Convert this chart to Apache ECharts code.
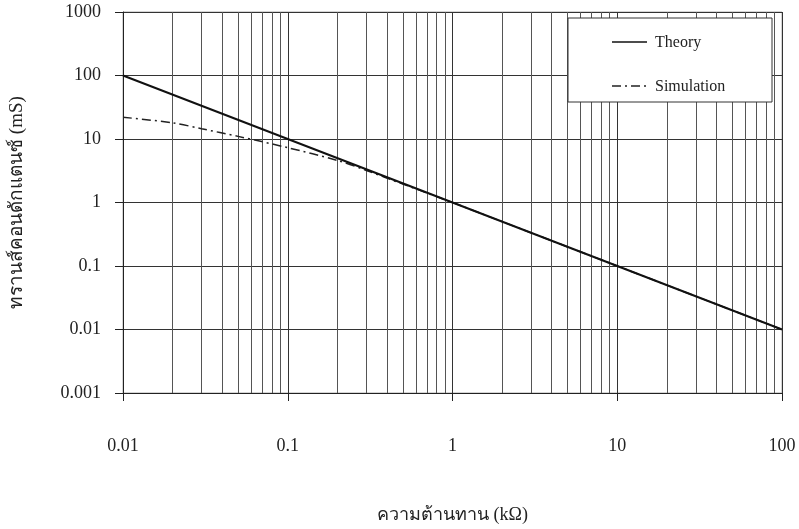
<!DOCTYPE html>
<html><head><meta charset="utf-8">
<script src="https://cdn.jsdelivr.net/npm/echarts@6/dist/echarts.min.js"></script>
<style>html,body{margin:0;padding:0;background:#fff}#c{width:799px;height:529px}</style>
</head><body><div id="c"></div>
<script>
const xTicks = [0.01, 0.1, 1, 10, 100];
const yTicks = [0.001, 0.01, 0.1, 1, 10, 100, 1000];
const minorGridX = [0.02,0.03,0.04,0.05,0.06,0.07,0.08,0.09,
  0.2,0.3,0.4,0.5,0.6,0.7,0.8,0.9,
  2,3,4,5,6,7,8,9,
  20,30,40,50,60,70,80,90];
const seriesNames = ['Theory', 'Simulation'];
const theoryX = [0.01, 0.1, 1, 10, 100];
const theoryY = [100, 10, 1, 0.1, 0.01];
const simX = [0.01, 0.02, 0.03, 0.05, 0.1, 0.2, 0.3, 0.5, 1, 2, 10, 100];
const simY = [22, 18, 14.5, 11, 7.3, 4.6, 3.2, 1.95, 1.0, 0.5, 0.1, 0.01];

const serif = "'Liberation Serif', 'Times New Roman', serif";
const simDash = [9, 4, 2, 4];
const chart = echarts.init(document.getElementById('c'));
chart.setOption({
  animation: false,
  backgroundColor: '#fff',
  grid: {left: 122, right: 17, top: 12, bottom: 131, show: true, borderColor: '#aaa', borderWidth: 1},
  graphic: [
    {type: 'rect', z: 100, shape: {x: 568, y: 18, width: 204, height: 84},
      style: {fill: '#fff', stroke: '#333', lineWidth: 1}},
    {type: 'line', z: 101, shape: {x1: 612, y1: 42, x2: 647, y2: 42},
      style: {stroke: '#111', lineWidth: 1.5}},
    {type: 'text', z: 101, x: 655, y: 43,
      style: {text: seriesNames[0], font: "16px 'Liberation Serif'", fill: '#222', verticalAlign: 'middle'}},
    {type: 'line', z: 101, shape: {x1: 612, y1: 86, x2: 647, y2: 86},
      style: {stroke: '#222', lineWidth: 1.5, lineDash: simDash}},
    {type: 'text', z: 101, x: 655, y: 87,
      style: {text: seriesNames[1], font: "16px 'Liberation Serif'", fill: '#222', verticalAlign: 'middle'}}
  ],
  xAxis: {
    type: 'log', logBase: 10, min: 0.01, max: 100,
    name: 'ความต้านทาน (kΩ)', nameLocation: 'middle', nameGap: 113,
    nameTextStyle: {fontFamily: serif, fontSize: 18, color: '#222'},
    axisLine: {show: true, lineStyle: {color: '#222', width: 1}},
    axisTick: {show: true, length: 8, lineStyle: {color: '#222'}},
    axisLabel: {fontFamily: serif, fontSize: 18, color: '#222', margin: 44,
      formatter: v => String(xTicks.find(t => Math.abs(Math.log10(t) - Math.log10(v)) < 1e-6) ?? v)},
    splitLine: {show: true, lineStyle: {color: '#333', width: 1}}
  },
  yAxis: {
    type: 'log', logBase: 10, min: 0.001, max: 1000,
    name: 'ทรานส์คอนดักแตนซ์ (mS)', nameLocation: 'middle', nameGap: 96,
    nameTextStyle: {fontFamily: serif, fontSize: 19, color: '#222'},
    axisLine: {show: true, lineStyle: {color: '#222', width: 1}},
    axisTick: {show: true, length: 8, lineStyle: {color: '#222'}},
    axisLabel: {fontFamily: serif, fontSize: 18, color: '#222', margin: 22,
      formatter: v => String(yTicks.find(t => Math.abs(Math.log10(t) - Math.log10(v)) < 1e-6) ?? v)},
    splitLine: {show: true, lineStyle: {color: '#333', width: 1}}
  },
  series: [
    {
      name: seriesNames[0], type: 'line', symbol: 'none', z: 5,
      data: theoryX.map((x, i) => [x, theoryY[i]]),
      lineStyle: {color: '#111', width: 2},
      itemStyle: {color: '#111'},
      markLine: {
        silent: true, symbol: 'none', label: {show: false}, z: 1,
        lineStyle: {color: '#555', width: 1, type: 'solid'},
        data: minorGridX.map(v => ({xAxis: v}))
      }
    },
    {
      name: seriesNames[1], type: 'line', symbol: 'none', smooth: 0.3, z: 4,
      data: simX.map((x, i) => [x, simY[i]]),
      lineStyle: {color: '#222', width: 1.5, type: simDash},
      itemStyle: {color: '#222'}
    }
  ]
});
</script></body></html>
